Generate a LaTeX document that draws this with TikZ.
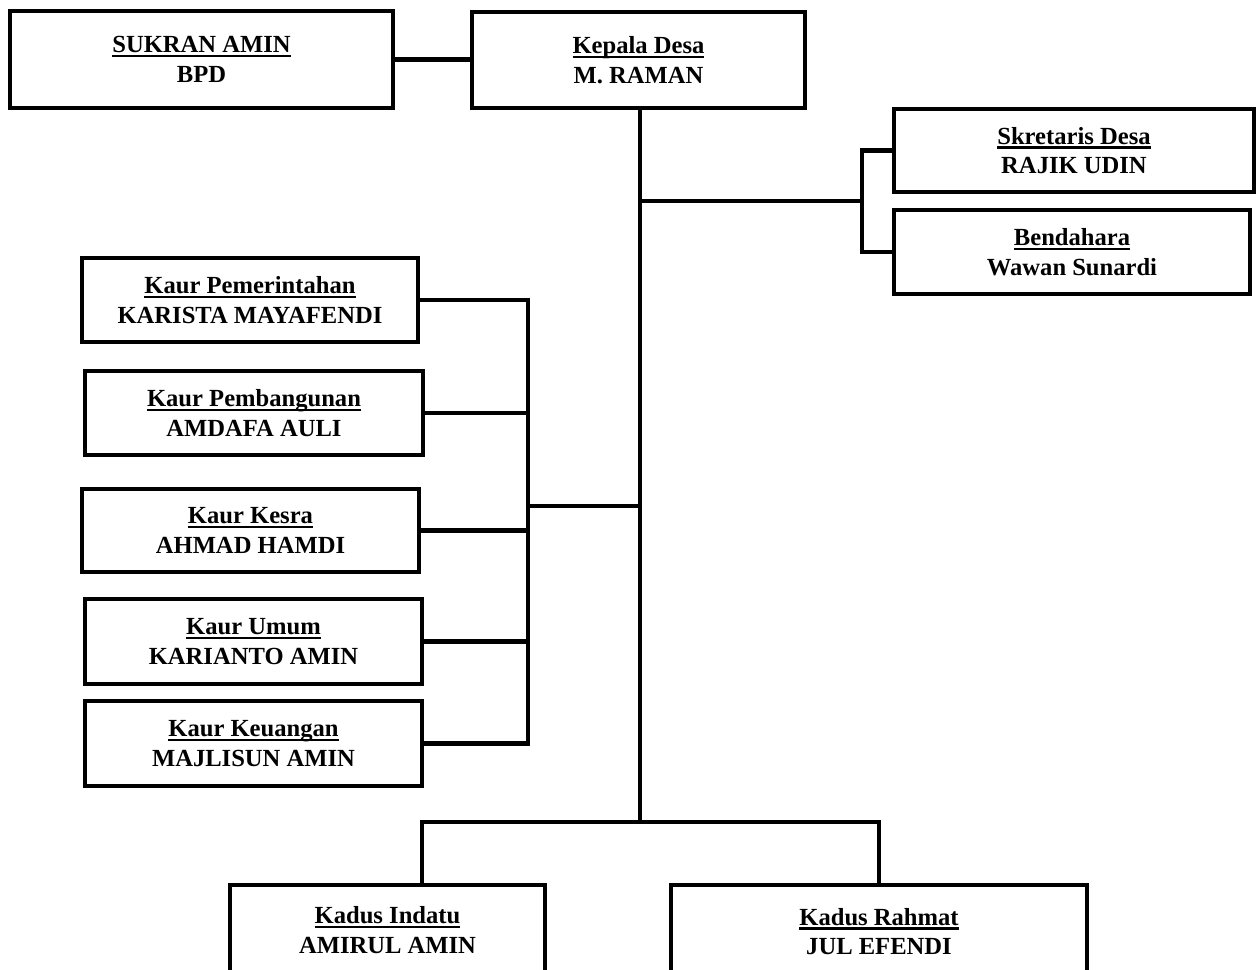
\documentclass[tikz,border=0pt]{standalone}
\usepackage{fontspec}
\setmainfont{Liberation Serif}
\usetikzlibrary{calc}
\tikzset{
  obox/.style={draw=black, line width=2.8pt, fill=white, inner sep=0pt, align=center,
    font=\fontsize{14}{16.8}\selectfont\bfseries},
  conn/.style={draw=black, line width=2.8pt}
}
\newcommand\ulin[1]{\setbox0\hbox{#1}\rlap{\rule[-2.6pt]{\wd0}{1.3pt}}\box0}
\newcommand\orgbox[7]{\node[obox, minimum width={(#4-#2)*0.02cm}, minimum height={(#5-#3)*0.02cm}] (#1) at ({(#2+#4)/2},{(#3+#5)/2}) {\ulin{#6}\\#7};}
\begin{document}
\begin{tikzpicture}[x=0.02cm,y=-0.02cm]
\useasboundingbox (0,0) rectangle (1258,970);
\clip (0,0) rectangle (1258,970);
\fill[white] (0,0) rectangle (1258,970);
% boxes
\orgbox{bpd}{10}{11}{393}{108}{SUKRAN AMIN}{BPD}
\orgbox{kades}{472}{12}{805}{108}{Kepala Desa}{M. RAMAN}
\orgbox{sek}{894}{109}{1254}{192}{Skretaris Desa}{RAJIK UDIN}
\orgbox{ben}{894}{210}{1250}{294}{Bendahara}{Wawan Sunardi}
\orgbox{kpem}{82}{258}{418}{342}{Kaur Pemerintahan}{KARISTA MAYAFENDI}
\orgbox{kbang}{85}{371}{423}{455}{Kaur Pembangunan}{AMDAFA AULI}
\orgbox{kkes}{82}{489}{419}{572}{Kaur Kesra}{AHMAD HAMDI}
\orgbox{kumum}{85}{599}{422}{684}{Kaur Umum}{KARIANTO AMIN}
\orgbox{kkeu}{85}{701}{422}{786}{Kaur Keuangan}{MAJLISUN AMIN}
\orgbox{kind}{230}{885}{545}{975}{Kadus Indatu}{AMIRUL AMIN}
\orgbox{krah}{671}{885}{1087}{978}{Kadus Rahmat}{JUL EFENDI}
% junction coordinates
\coordinate (rj) at (862,201);
\coordinate (lj) at (528,506);
\coordinate (bj) at (640,822);
\coordinate (bl) at (422,822);
% connectors
\draw[conn] (bpd.east) -- (bpd.east -| kades.west);
\draw[conn] (kades.south -| bj) -- (bj);
\draw[conn] (bj |- rj) -- (rj);
\draw[conn] (sek.west) -| (rj) |- (ben.west);
\draw[conn] (bj |- lj) -- (lj);
\draw[conn] (kpem.east) -| (lj);
\draw[conn] (kbang.east) -- (kbang.east -| lj);
\draw[conn] (kkes.east) -- (kkes.east -| lj);
\draw[conn] (kumum.east) -- (kumum.east -| lj);
\draw[conn] (kkeu.east) -| (lj);
\draw[conn] (kind.north -| bl) -- (bl) -- (bj) -| (krah.north);
\end{tikzpicture}
\end{document}
